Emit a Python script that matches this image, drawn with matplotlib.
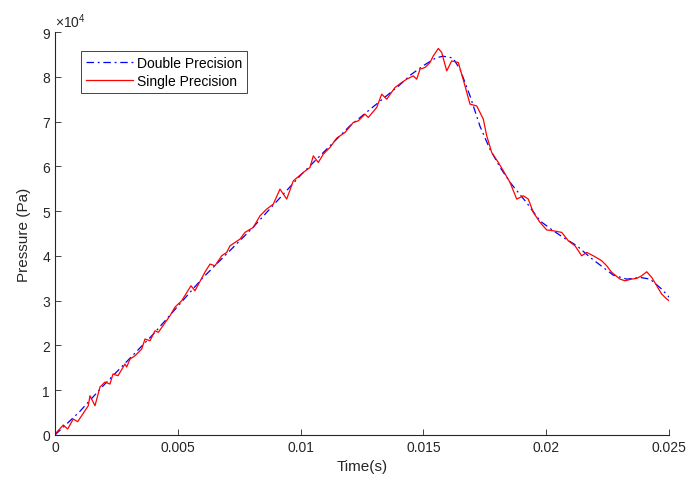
import matplotlib
matplotlib.use('Agg')
import matplotlib.pyplot as plt

# time in seconds, pressure in units of 1e4 Pa
t_single = [0, 0.000338, 0.000517, 0.000745, 0.000924, 0.001356, 0.001425, 0.001629,
            0.001832, 0.002036, 0.002239, 0.002362, 0.002565, 0.00285, 0.002919, 0.003054,
            0.003257, 0.00353, 0.003664, 0.003868, 0.004072, 0.004206, 0.004682, 0.004886,
            0.005159, 0.005537, 0.0057, 0.006107, 0.006311, 0.006515, 0.006787, 0.006991,
            0.007125, 0.007533, 0.007736, 0.008074, 0.008347, 0.00862, 0.008888, 0.009161,
            0.009434, 0.009703, 0.01011, 0.010383, 0.010517, 0.010721, 0.010924, 0.011197,
            0.01147, 0.011808, 0.012146, 0.01235, 0.012622, 0.012757, 0.013099, 0.013302,
            0.013506, 0.013844, 0.014117, 0.01432, 0.014589, 0.014727, 0.014862, 0.015065,
            0.015269, 0.015403, 0.015607, 0.015745, 0.015949, 0.016152, 0.016421, 0.016694,
            0.016897, 0.01717, 0.017439, 0.017578, 0.017781, 0.01805, 0.018253, 0.018526,
            0.018799, 0.019068, 0.019271, 0.019475, 0.019748, 0.02002, 0.020289, 0.020631,
            0.0209, 0.021173, 0.021445, 0.021649, 0.021918, 0.02226, 0.022463, 0.022667,
            0.023005, 0.023208, 0.023481, 0.023685, 0.023888, 0.024092, 0.024296, 0.0245,
            0.024703, 0.024907, 0.025]
p_single = [0.02, 0.223, 0.134, 0.357, 0.297, 0.654, 0.877, 0.654,
            1.071, 1.183, 1.138, 1.362, 1.324, 1.585, 1.518, 1.696,
            1.770, 1.920, 2.143, 2.105, 2.328, 2.292, 2.663, 2.857,
            2.998, 3.333, 3.221, 3.638, 3.817, 3.779, 4.002, 4.078,
            4.225, 4.375, 4.525, 4.636, 4.895, 5.045, 5.156, 5.491,
            5.268, 5.676, 5.864, 5.975, 6.234, 6.087, 6.272, 6.422,
            6.630, 6.757, 6.980, 7.016, 7.165, 7.092, 7.315, 7.612,
            7.500, 7.761, 7.873, 7.946, 8.020, 7.946, 8.170, 8.208,
            8.319, 8.467, 8.632, 8.542, 8.132, 8.355, 8.319, 7.797,
            7.388, 7.350, 7.054, 6.681, 6.310, 6.087, 5.900, 5.641,
            5.268, 5.342, 5.268, 4.971, 4.748, 4.580, 4.560, 4.525,
            4.337, 4.225, 4.002, 4.078, 4.002, 3.891, 3.779, 3.632,
            3.482, 3.444, 3.482, 3.498, 3.556, 3.645, 3.520, 3.333,
            3.147, 3.036, 3.000]

t_double = [0, 0.001, 0.002, 0.004, 0.006, 0.008, 0.010, 0.012, 0.014, 0.0145, 0.015, 0.0155,
            0.0158, 0.0162, 0.01649, 0.0169, 0.0173, 0.01771, 0.01812, 0.01853, 0.0192,
            0.01975, 0.02029, 0.0207, 0.02124, 0.02178, 0.02273, 0.02328, 0.02382, 0.02423,
            0.0247, 0.025]
p_double = [0, 0.52, 1.12, 2.25, 3.5, 4.6, 5.8, 6.9, 7.8, 8.05, 8.25, 8.42,
            8.46, 8.42, 8.17, 7.57, 6.9, 6.38, 5.98, 5.64, 5.19,
            4.78, 4.56, 4.41, 4.23, 3.97, 3.57, 3.48, 3.52, 3.48,
            3.26, 3.08]

plt.rcParams['font.family'] = 'Liberation Sans'
plt.rcParams['mathtext.fontset'] = 'custom'
plt.rcParams['mathtext.rm'] = 'Liberation Sans'

grey = '#262626'
fig = plt.figure(figsize=(6.89, 4.89), dpi=100)
ax = fig.add_axes([0.0798, 0.1084, 0.8912, 0.8241])

ax.plot(t_double, p_double, color='b', linestyle=(0, (6, 3, 1.5, 3)), linewidth=0.9,
        label='Double Precision')
ax.plot(t_single, p_single, color='r', linestyle='-', linewidth=0.9, label='Single Precision')

ax.set_xlim(0, 0.025)
ax.set_ylim(0, 9)
ax.set_xticks([0, 0.005, 0.01, 0.015, 0.02, 0.025])
ax.set_xticklabels(['0', '0.005', '0.01', '0.015', '0.02', '0.025'])
ax.set_yticks(range(10))
ax.tick_params(direction='in', length=4, width=0.6, colors=grey, labelsize=10)
for s in ['top', 'right']:
    ax.spines[s].set_visible(False)
for s in ['left', 'bottom']:
    ax.spines[s].set_color(grey)
    ax.spines[s].set_linewidth(0.8)

ax.set_xlabel('Time(s)', fontsize=11, color=grey, labelpad=4)
ax.set_ylabel('Pressure (Pa)', fontsize=11, color=grey, labelpad=8)
ax.text(0.0, 1.005, r'$\times$10$^{4}$', transform=ax.transAxes, fontsize=10,
        color=grey, ha='left', va='bottom')

leg = ax.legend(loc='upper left', bbox_to_anchor=(0.042, 0.952), fontsize=10,
                fancybox=False, framealpha=1, edgecolor=grey, handlelength=3.4,
                borderpad=0.35, labelspacing=0.25, handletextpad=0.3, borderaxespad=0)
leg.get_frame().set_linewidth(0.6)

plt.savefig('out.png', dpi=100)
